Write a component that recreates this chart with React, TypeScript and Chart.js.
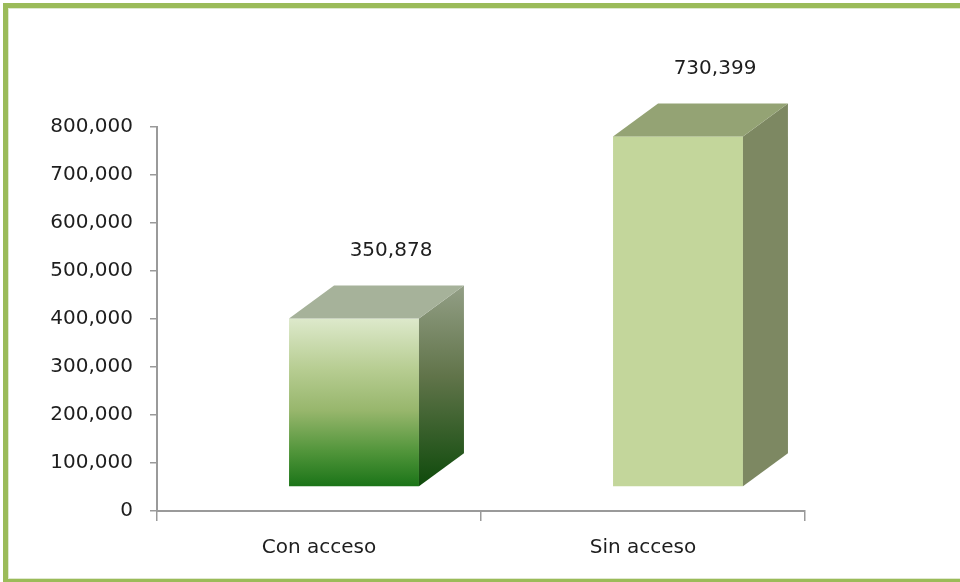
import React, { useEffect, useRef } from 'react';
import { Chart, registerables } from 'chart.js';

Chart.register(...registerables);

// ---- data ----
const categories = ['Con acceso', 'Sin acceso'];
const values = [350878, 730399];
const yMin = 0;
const yMax = 800000;
const yStep = 100000;

// ---- styles ----
const FONT = '"DejaVu Sans", Verdana, sans-serif';
const TEXT = '#1e1e1e';
const AXIS = '#9a9a9a';
const SHIFT_X = 35; // front face offset from category slot
const SHIFT_Y = -24; // front face lifted above floor
const DX = 45; // depth x
const DY = 33; // depth y

const faceStyles = [
  {
    front: [[0, '#DDE9CB'], [0.3, '#B7CD92'], [0.55, '#97B66C'], [0.8, '#4F9439'], [1, '#1B7418']],
    side: [[0, '#939F86'], [0.45, '#61744A'], [1, '#0E4A0B']],
    top: '#A6B29A',
  },
  {
    front: [[0, '#C3D69B'], [1, '#C3D69B']],
    side: [[0, '#7D8862'], [1, '#7D8862']],
    top: '#94A374',
  },
];

const fmt = (v: number) => String(Math.round(v)).replace(/\B(?=(\d{3})+(?!\d))/g, ',');

const bar3d = {
  id: 'bar3d',
  afterDatasetsDraw(chart: any) {
    const ctx = chart.ctx as CanvasRenderingContext2D;
    const meta = chart.getDatasetMeta(0);
    meta.data.forEach((el: any, i: number) => {
      const { x, y, base, width } = el.getProps(['x', 'y', 'base', 'width'], true);
      const st = faceStyles[i % faceStyles.length];
      const L = x - width / 2 + SHIFT_X;
      const R = L + width;
      const T = y + SHIFT_Y;
      const B = base + SHIFT_Y;
      ctx.save();
      // front
      const gf = ctx.createLinearGradient(0, T, 0, B);
      st.front.forEach(([o, c]: any) => gf.addColorStop(o, c));
      ctx.fillStyle = gf;
      ctx.fillRect(L, T, width, B - T);
      // side
      const gs = ctx.createLinearGradient(0, T - DY, 0, B);
      st.side.forEach(([o, c]: any) => gs.addColorStop(o, c));
      ctx.fillStyle = gs;
      ctx.beginPath();
      ctx.moveTo(R, T);
      ctx.lineTo(R + DX, T - DY);
      ctx.lineTo(R + DX, B - DY);
      ctx.lineTo(R, B);
      ctx.closePath();
      ctx.fill();
      // top
      ctx.fillStyle = st.top;
      ctx.beginPath();
      ctx.moveTo(L, T);
      ctx.lineTo(L + DX, T - DY);
      ctx.lineTo(R + DX, T - DY);
      ctx.lineTo(R, T);
      ctx.closePath();
      ctx.fill();
      // label
      ctx.fillStyle = TEXT;
      ctx.font = `20px ${FONT}`;
      ctx.textAlign = 'center';
      ctx.textBaseline = 'middle';
      ctx.fillText(fmt(values[i]), L + width / 2 + 37, T - 68);
      ctx.restore();
    });
  },
};

export default function App() {
  const ref = useRef<HTMLCanvasElement | null>(null);

  useEffect(() => {
    if (!ref.current) return;
    const chart = new Chart(ref.current, {
      type: 'bar',
      data: {
        labels: categories,
        datasets: [
          {
            data: values,
            backgroundColor: 'rgba(0,0,0,0)',
            borderWidth: 0,
            categoryPercentage: 1,
            barPercentage: 0.401,
          },
        ],
      },
      options: {
        responsive: false,
        animation: false,
        layout: { padding: { left: 0, top: 127, right: 155, bottom: 0 } },
        plugins: { legend: { display: false }, tooltip: { enabled: false } },
        scales: {
          x: {
            afterFit: (s: any) => {
              s.height = 71;
            },
            grid: {
              offset: true,
              drawOnChartArea: false,
              drawTicks: true,
              tickLength: 10,
              color: AXIS,
              lineWidth: 1.5,
            },
            border: { display: true, color: AXIS, width: 2 },
            ticks: {
              color: TEXT,
              font: { family: FONT, size: 20 },
              padding: 15,
            },
          },
          y: {
            min: yMin,
            max: yMax,
            afterFit: (s: any) => {
              s.width = 157;
            },
            grid: {
              drawOnChartArea: false,
              drawTicks: true,
              tickLength: 7,
              color: AXIS,
              lineWidth: 1.5,
            },
            border: { display: true, color: AXIS, width: 2 },
            ticks: {
              stepSize: yStep,
              color: TEXT,
              font: { family: FONT, size: 20 },
              padding: 17,
              callback: (v: any) => fmt(Number(v)),
            },
          },
        },
      },
      plugins: [bar3d],
    });
    return () => chart.destroy();
  }, []);

  return (
    <div
      style={{
        position: 'fixed',
        left: 0,
        top: 0,
        width: 960,
        height: 582,
        overflow: 'hidden',
        background: '#ffffff',
      }}
    >
      <div
        style={{
          position: 'absolute',
          left: 3,
          top: 3,
          width: 1000,
          height: 581,
          boxSizing: 'border-box',
          border: '5px solid #9BBB59',
          boxShadow: 'inset 0 0 0 1px #DFE9CF',
        }}
      />
      <canvas
        ref={ref}
        width={960}
        height={582}
        style={{ position: 'absolute', left: 0, top: 0, width: 960, height: 582 }}
      />
    </div>
  );
}
